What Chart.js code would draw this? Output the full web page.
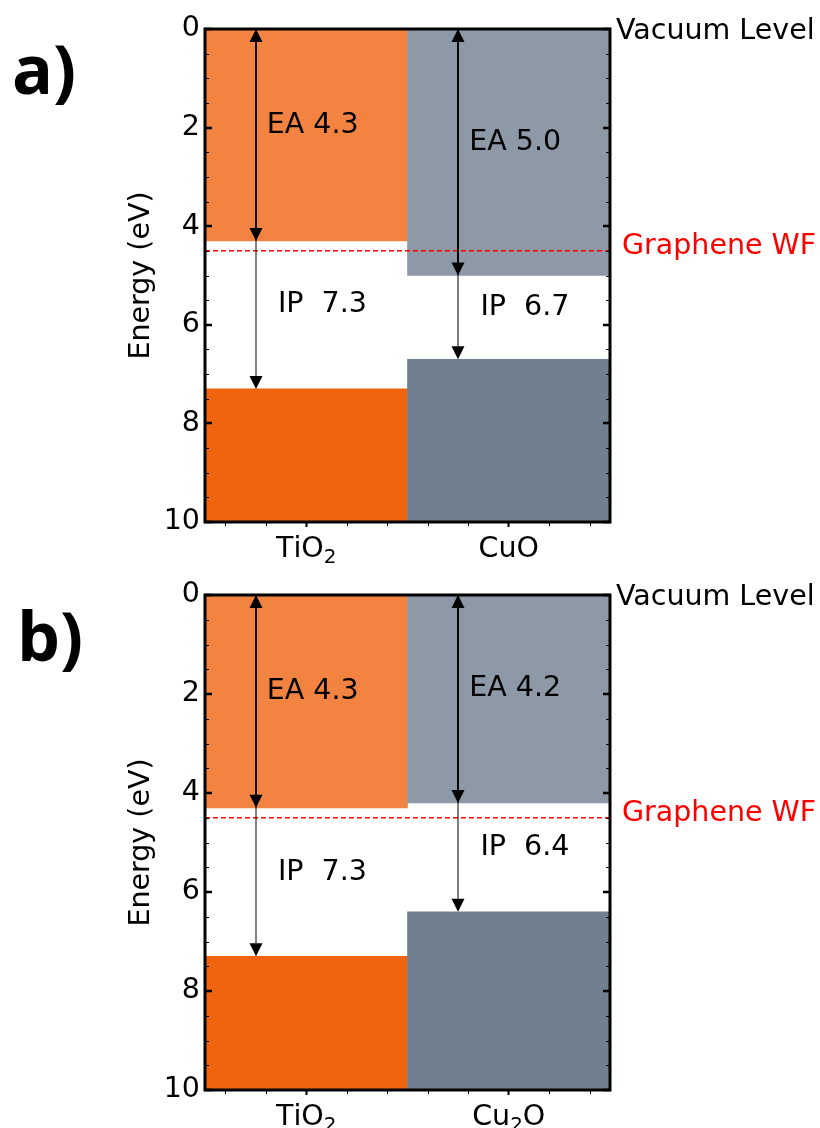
<!DOCTYPE html>
<html>
<head>
<meta charset="utf-8">
<script src="https://cdn.jsdelivr.net/npm/chart.js@4.4.1/dist/chart.umd.min.js"></script>
<style>
  html, body { margin: 0; padding: 0; background: #fff; }
  canvas { display: block; }
</style>
</head>
<body>
<canvas id="panelA" width="820" height="564"></canvas>
<canvas id="panelB" width="820" height="564"></canvas>
<script>
// energies in eV below the vacuum level
const positions = [0, 1];
const materialsA = ['TiO₂', 'CuO'];
const eaA = [4.3, 5.0];
const ipA = [7.3, 6.7];
const materialsB = ['TiO₂', 'Cu₂O'];
const eaB = [4.3, 4.2];
const ipB = [7.3, 6.4];
const vacuumLevel = 0;
const grapheneWF = 4.5;
const energyRange = [0, 10];
const xRange = [-0.5, 1.5];

const upperColors = ['rgb(243,131,64)', 'rgb(141,153,166)'];
const lowerColors = ['rgb(240,100,16)', 'rgb(112,128,144)'];
const FONT = 'DejaVu Sans';
const FS = 28.5;
const ARROW_SHIFT = -0.25;

Chart.defaults.font.family = FONT;
Chart.defaults.color = '#000';

function drawArrow(ctx, x, y0, y1, lw, startHead, endHead) {
  const hl = 13, hw = 6.5;
  const d = Math.sign(y1 - y0);
  ctx.strokeStyle = '#000';
  ctx.fillStyle = '#000';
  ctx.lineWidth = lw;
  ctx.beginPath();
  ctx.moveTo(x, y0 + (startHead ? d * hl : 0));
  ctx.lineTo(x, y1 - (endHead ? d * hl : 0));
  ctx.stroke();
  const head = (tip, dir) => {
    ctx.beginPath();
    ctx.moveTo(x, tip);
    ctx.lineTo(x - hw, tip - dir * hl);
    ctx.lineTo(x + hw, tip - dir * hl);
    ctx.closePath();
    ctx.fill();
  };
  if (startHead) head(y0, -d);
  if (endHead) head(y1, d);
}

// draws a chemical formula, turning unicode subscript digits into lowered small digits
function drawFormula(ctx, text, cx, baseline) {
  const parts = [...text].map(ch => {
    const code = ch.charCodeAt(0);
    if (code >= 0x2080 && code <= 0x2089) return { t: String(code - 0x2080), sub: true };
    return { t: ch, sub: false };
  });
  const big = FS + 'px "' + FONT + '"', small = (FS * 0.7) + 'px "' + FONT + '"';
  let w = 0;
  parts.forEach(p => { ctx.font = p.sub ? small : big; p.w = ctx.measureText(p.t).width; w += p.w; });
  let x = cx - w / 2;
  ctx.textAlign = 'left';
  ctx.textBaseline = 'alphabetic';
  parts.forEach(p => {
    ctx.font = p.sub ? small : big;
    ctx.fillText(p.t, x, baseline + (p.sub ? 6 : 0));
    x += p.w;
  });
}

const bandPlugin = {
  id: 'bandDiagram',
  afterDatasetsDraw(chart, args, opts) {
    const { ctx, chartArea: a, scales: { x, y } } = chart;
    const { names, ea, ip, letter, letterX, letterY } = opts;
    ctx.save();

    // arrows + EA / IP labels
    positions.forEach((p, i) => {
      const ax = Math.round(x.getPixelForValue(p + ARROW_SHIFT));
      const y0 = y.getPixelForValue(vacuumLevel);
      drawArrow(ctx, ax, y0, y.getPixelForValue(ip[i]), 1, false, true);
      drawArrow(ctx, ax, y0, y.getPixelForValue(ea[i]), 1.8, true, true);
      ctx.fillStyle = '#000';
      ctx.font = FS + 'px "' + FONT + '"';
      ctx.textAlign = 'left';
      ctx.textBaseline = 'middle';
      ctx.fillText('EA ' + ea[i].toFixed(1),
        x.getPixelForValue(p + ARROW_SHIFT + 0.055), y.getPixelForValue(ea[i] / 2 - 0.2));
      ctx.fillText('IP  ' + ip[i].toFixed(1),
        x.getPixelForValue(p + ARROW_SHIFT + 0.11), y.getPixelForValue((ea[i] + ip[i]) / 2 - 0.2));
      // category label under the axis
      drawFormula(ctx, names[i], x.getPixelForValue(p), a.bottom + 35);
    });

    // inward ticks on left and right spines
    ctx.strokeStyle = '#000';
    for (let v = energyRange[0]; v <= energyRange[1] + 1e-9; v += 0.5) {
      const major = Math.abs(v % 2) < 1e-9;
      const len = major ? 7 : 4;
      const py = Math.round(y.getPixelForValue(v)) + (major ? 0 : 0.5);
      ctx.lineWidth = major ? 2.5 : 1;
      ctx.beginPath();
      ctx.moveTo(a.left, py); ctx.lineTo(a.left + len, py);
      ctx.moveTo(a.right, py); ctx.lineTo(a.right - len, py);
      ctx.stroke();
    }
    // minor ticks under the x axis
    ctx.lineWidth = 1;
    for (let k = -4; k <= 14; k += 2) {
      if (k === 0 || k === 10) continue;
      const px = Math.round(x.getPixelForValue(k / 10)) + 0.5;
      ctx.beginPath();
      ctx.moveTo(px, a.bottom); ctx.lineTo(px, a.bottom + 4);
      ctx.stroke();
    }

    // frame
    ctx.lineWidth = 3;
    ctx.strokeRect(a.left, a.top, a.right - a.left, a.bottom - a.top);

    // side annotations
    ctx.font = FS + 'px "' + FONT + '"';
    ctx.textAlign = 'left';
    ctx.textBaseline = 'alphabetic';
    ctx.fillStyle = '#000';
    ctx.fillText('Vacuum Level', a.right + 6, y.getPixelForValue(vacuumLevel) + 10);
    ctx.fillStyle = '#ff0000';
    ctx.fillText('Graphene WF', a.right + 12, y.getPixelForValue(grapheneWF) + 3);

    // y axis title
    ctx.fillStyle = '#000';
    ctx.save();
    ctx.translate(149, (a.top + a.bottom) / 2);
    ctx.rotate(-Math.PI / 2);
    ctx.textAlign = 'center';
    ctx.fillText('Energy (eV)', 0, 0);
    ctx.restore();

    // panel letter
    ctx.font = 'bold 68px "Open Sans"';
    ctx.fillText(letter, letterX, letterY);
    ctx.restore();
  }
};

function makePanel(id, names, ea, ip, top, axisH, letter, letterX, letterY) {
  return new Chart(document.getElementById(id), {
    type: 'bar',
    data: {
      datasets: [
        {
          type: 'line',
          label: 'Graphene WF',
          data: xRange.map(v => ({ x: v, y: grapheneWF })),
          borderColor: '#ff0000',
          borderWidth: 1.5,
          borderDash: [5, 3],
          pointRadius: 0,
          order: 1
        },
        {
          label: 'EA band',
          data: positions.map((p, i) => ({ x: p, y: [vacuumLevel, ea[i]] })),
          backgroundColor: upperColors,
          grouped: false,
          barPercentage: 1,
          categoryPercentage: 1,
          order: 2
        },
        {
          label: 'IP band',
          data: positions.map((p, i) => ({ x: p, y: [ip[i], energyRange[1]] })),
          backgroundColor: lowerColors,
          grouped: false,
          barPercentage: 1,
          categoryPercentage: 1,
          order: 2
        }
      ]
    },
    options: {
      responsive: false,
      animation: false,
      events: [],
      layout: { padding: { top: top, right: 210, left: 0, bottom: 0 } },
      plugins: {
        legend: { display: false },
        tooltip: { enabled: false },
        bandDiagram: { names, ea, ip, letter, letterX, letterY }
      },
      scales: {
        x: {
          type: 'linear',
          offset: false,
          min: xRange[0],
          max: xRange[1],
          afterBuildTicks: s => { s.ticks = positions.map(v => ({ value: v })); },
          afterFit: s => { s.height = axisH; },
          ticks: { display: false },
          grid: { offset: false, drawOnChartArea: false, drawTicks: true, tickLength: 5, tickWidth: 2, tickColor: '#000' },
          border: { display: false }
        },
        y: {
          min: energyRange[0],
          max: energyRange[1],
          reverse: true,
          afterFit: s => { s.width = 205; },
          ticks: { stepSize: 2, font: { size: FS }, padding: 5, color: '#000' },
          grid: { display: false, drawTicks: false, tickLength: 0 },
          border: { display: false }
        }
      }
    },
    plugins: [bandPlugin]
  });
}

makePanel('panelA', materialsA, eaA, ipA, 29, 42, 'a)', 12, 94);
makePanel('panelB', materialsB, eaB, ipB, 31, 38, 'b)', 17, 97);
</script>
</body>
</html>
